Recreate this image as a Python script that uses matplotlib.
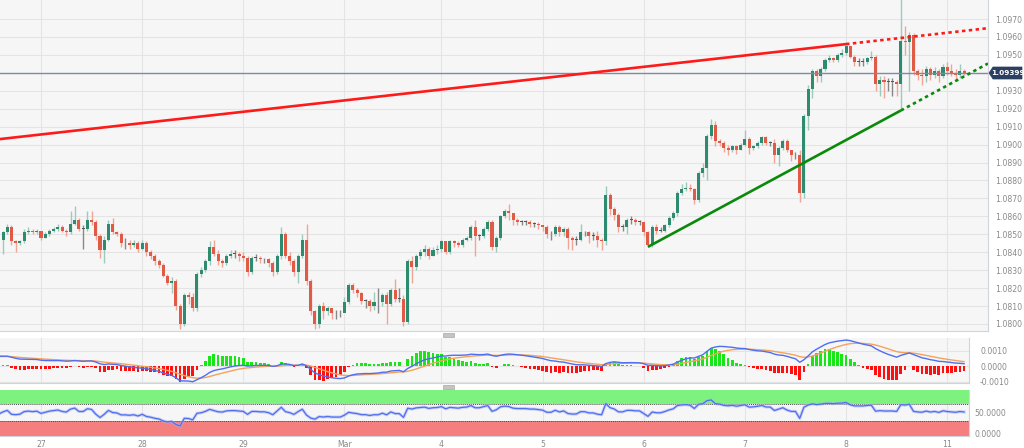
import numpy as np
import matplotlib
matplotlib.use("Agg")
import matplotlib.pyplot as plt
from matplotlib.patches import Rectangle, Polygon

# ---------------- data (hourly EUR/USD candles) ----------------
first_open = 1.0858

close_feb26 = [1.0847, 1.0851, 1.0854, 1.0846, 1.0845, 1.0846, 1.0851, 1.0852, 1.0851, 1.0852]
high_feb26 = [1.0860, 1.0852, 1.0856, 1.0855, 1.0847, 1.0847, 1.0853, 1.0854, 1.0853, 1.0853]
low_feb26 = [1.0845, 1.0839, 1.0850, 1.0844, 1.0840, 1.0844, 1.0845, 1.0850, 1.0850, 1.0850]

close_feb27 = [1.0848, 1.0850, 1.0852, 1.0853, 1.0854, 1.0852, 1.0851, 1.0856, 1.0858, 1.0853, 1.0853, 1.0858,
               1.0857, 1.0849, 1.0841, 1.0847, 1.0856, 1.0851, 1.0850, 1.0845, 1.0845, 1.0844, 1.0845, 1.0842]
high_feb27 = [1.0852, 1.0851, 1.0853, 1.0854, 1.0856, 1.0855, 1.0853, 1.0863, 1.0866, 1.0859, 1.0855, 1.0863,
              1.0863, 1.0858, 1.0850, 1.0849, 1.0858, 1.0859, 1.0852, 1.0851, 1.0848, 1.0847, 1.0847, 1.0846]
low_feb27 = [1.0847, 1.0848, 1.0849, 1.0851, 1.0852, 1.0851, 1.0849, 1.0850, 1.0855, 1.0852, 1.0842, 1.0852,
             1.0855, 1.0847, 1.0837, 1.0834, 1.0846, 1.0850, 1.0849, 1.0843, 1.0842, 1.0842, 1.0843, 1.0840]

close_feb28 = [1.0845, 1.0840, 1.0838, 1.0835, 1.0833, 1.0827, 1.0823, 1.0824, 1.0810, 1.0800, 1.0816, 1.0815,
               1.0809, 1.0828, 1.0830, 1.0835, 1.0843, 1.0839, 1.0835, 1.0834, 1.0838, 1.0839, 1.0839, 1.0838]
high_feb28 = [1.0847, 1.0846, 1.0841, 1.0839, 1.0836, 1.0834, 1.0828, 1.0826, 1.0825, 1.0811, 1.0817, 1.0818,
              1.0817, 1.0829, 1.0832, 1.0836, 1.0846, 1.0847, 1.0841, 1.0836, 1.0839, 1.0841, 1.0841, 1.0840]
low_feb28 = [1.0841, 1.0838, 1.0836, 1.0833, 1.0831, 1.0826, 1.0822, 1.0817, 1.0808, 1.0797, 1.0799, 1.0811,
             1.0807, 1.0807, 1.0826, 1.0829, 1.0833, 1.0838, 1.0833, 1.0832, 1.0833, 1.0837, 1.0837, 1.0835]

close_feb29 = [1.0837, 1.0829, 1.0837, 1.0837, 1.0836, 1.0836, 1.0834, 1.0829, 1.0838, 1.0850, 1.0838, 1.0835,
               1.0829, 1.0838, 1.0847, 1.0824, 1.0807, 1.0800, 1.0810, 1.0807, 1.0809, 1.0806, 1.0806, 1.0806]
high_feb29 = [1.0840, 1.0838, 1.0838, 1.0839, 1.0838, 1.0837, 1.0837, 1.0835, 1.0839, 1.0854, 1.0851, 1.0840,
              1.0836, 1.0839, 1.0850, 1.0856, 1.0825, 1.0808, 1.0811, 1.0812, 1.0810, 1.0808, 1.0808, 1.0808]
low_feb29 = [1.0835, 1.0827, 1.0828, 1.0835, 1.0834, 1.0834, 1.0832, 1.0827, 1.0828, 1.0836, 1.0837, 1.0833,
             1.0827, 1.0823, 1.0837, 1.0822, 1.0805, 1.0797, 1.0798, 1.0803, 1.0805, 1.0803, 1.0803, 1.0804]

close_mar1 = [1.0812, 1.0822, 1.0819, 1.0817, 1.0813, 1.0813, 1.0810, 1.0812, 1.0812, 1.0816, 1.0811, 1.0819,
              1.0814, 1.0814, 1.0801, 1.0835, 1.0832, 1.0838, 1.0840, 1.0842, 1.0838, 1.0841, 1.0842]
high_mar1 = [1.0815, 1.0823, 1.0823, 1.0820, 1.0818, 1.0814, 1.0814, 1.0818, 1.0820, 1.0817, 1.0818, 1.0820,
             1.0825, 1.0820, 1.0816, 1.0836, 1.0838, 1.0839, 1.0842, 1.0844, 1.0843, 1.0843, 1.0844]
low_mar1 = [1.0810, 1.0811, 1.0817, 1.0815, 1.0811, 1.0809, 1.0807, 1.0808, 1.0806, 1.0810, 1.0800, 1.0810,
            1.0812, 1.0812, 1.0799, 1.0800, 1.0823, 1.0830, 1.0836, 1.0838, 1.0836, 1.0838, 1.0839]

close_mar4 = [1.0846, 1.0840, 1.0846, 1.0845, 1.0844, 1.0847, 1.0848, 1.0854, 1.0849, 1.0849, 1.0853, 1.0857,
              1.0843, 1.0848, 1.0860, 1.0863, 1.0862, 1.0858, 1.0857, 1.0857, 1.0857, 1.0856, 1.0856, 1.0855]
high_mar4 = [1.0847, 1.0846, 1.0847, 1.0847, 1.0846, 1.0848, 1.0849, 1.0855, 1.0858, 1.0850, 1.0854, 1.0858,
             1.0858, 1.0849, 1.0861, 1.0864, 1.0867, 1.0862, 1.0859, 1.0858, 1.0858, 1.0858, 1.0857, 1.0857]
low_mar4 = [1.0840, 1.0839, 1.0839, 1.0843, 1.0843, 1.0843, 1.0846, 1.0847, 1.0838, 1.0847, 1.0848, 1.0852,
            1.0841, 1.0840, 1.0847, 1.0859, 1.0858, 1.0855, 1.0855, 1.0855, 1.0855, 1.0854, 1.0854, 1.0853]

close_mar5 = [1.0854, 1.0850, 1.0850, 1.0854, 1.0851, 1.0853, 1.0848, 1.0847, 1.0847, 1.0851, 1.0851, 1.0849,
              1.0849, 1.0847, 1.0846, 1.0872, 1.0864, 1.0861, 1.0854, 1.0854, 1.0858, 1.0858, 1.0857, 1.0857]
high_mar5 = [1.0855, 1.0855, 1.0852, 1.0855, 1.0855, 1.0854, 1.0854, 1.0849, 1.0849, 1.0856, 1.0852, 1.0852,
             1.0851, 1.0852, 1.0848, 1.0877, 1.0873, 1.0865, 1.0862, 1.0856, 1.0859, 1.0860, 1.0859, 1.0858]
low_mar5 = [1.0852, 1.0848, 1.0847, 1.0849, 1.0849, 1.0849, 1.0842, 1.0841, 1.0844, 1.0846, 1.0849, 1.0845,
            1.0847, 1.0843, 1.0841, 1.0844, 1.0861, 1.0858, 1.0851, 1.0852, 1.0850, 1.0856, 1.0855, 1.0855]

close_mar6 = [1.0851, 1.0844, 1.0854, 1.0852, 1.0852, 1.0855, 1.0859, 1.0862, 1.0873, 1.0875, 1.0876, 1.0875,
              1.0869, 1.0884, 1.0887, 1.0905, 1.0911, 1.0902, 1.0901, 1.0898, 1.0897, 1.0899, 1.0897, 1.0900]
high_mar6 = [1.0855, 1.0852, 1.0855, 1.0856, 1.0854, 1.0856, 1.0860, 1.0863, 1.0874, 1.0878, 1.0879, 1.0878,
             1.0876, 1.0885, 1.0890, 1.0906, 1.0914, 1.0913, 1.0903, 1.0902, 1.0900, 1.0900, 1.0900, 1.0901]
low_mar6 = [1.0849, 1.0843, 1.0843, 1.0850, 1.0851, 1.0851, 1.0854, 1.0858, 1.0860, 1.0872, 1.0874, 1.0874,
            1.0867, 1.0868, 1.0882, 1.0880, 1.0903, 1.0899, 1.0899, 1.0896, 1.0894, 1.0896, 1.0895, 1.0897]

close_mar7 = [1.0903, 1.0898, 1.0899, 1.0901, 1.0904, 1.0901, 1.0901, 1.0894, 1.0898, 1.0902, 1.0897, 1.0894,
              1.0894, 1.0873, 1.0916, 1.0931, 1.0941, 1.0938, 1.0942, 1.0947, 1.0948, 1.0947, 1.0950, 1.0951]
high_mar7 = [1.0908, 1.0904, 1.0900, 1.0902, 1.0905, 1.0905, 1.0902, 1.0903, 1.0899, 1.0903, 1.0903, 1.0897,
             1.0896, 1.0897, 1.0917, 1.0933, 1.0942, 1.0942, 1.0943, 1.0948, 1.0950, 1.0949, 1.0951, 1.0953]
low_mar7 = [1.0899, 1.0895, 1.0897, 1.0898, 1.0900, 1.0900, 1.0899, 1.0890, 1.0888, 1.0897, 1.0896, 1.0891,
            1.0892, 1.0868, 1.0870, 1.0908, 1.0926, 1.0935, 1.0935, 1.0941, 1.0946, 1.0946, 1.0946, 1.0949]

close_mar8 = [1.0955, 1.0949, 1.0946, 1.0946, 1.0946, 1.0948, 1.0949, 1.0934, 1.0936, 1.0935, 1.0935, 1.0935,
              1.0934, 1.0958, 1.0957, 1.0961, 1.0941, 1.0939, 1.0938, 1.0942, 1.0939, 1.0941, 1.0938, 1.0943]
high_mar8 = [1.0957, 1.0955, 1.0950, 1.0948, 1.0948, 1.0949, 1.0952, 1.0950, 1.0938, 1.0938, 1.0937, 1.0937,
             1.0936, 1.0985, 1.0966, 1.0963, 1.0962, 1.0942, 1.0942, 1.0944, 1.0943, 1.0943, 1.0942, 1.0945]
low_mar8 = [1.0950, 1.0948, 1.0944, 1.0944, 1.0944, 1.0945, 1.0947, 1.0930, 1.0927, 1.0926, 1.0930, 1.0927,
            1.0927, 1.0919, 1.0950, 1.0930, 1.0939, 1.0936, 1.0933, 1.0935, 1.0936, 1.0937, 1.0935, 1.0937]

close_mar11 = [1.0941, 1.0940, 1.0939, 1.0941, 1.09399]
high_mar11 = [1.0946, 1.0945, 1.0942, 1.0945, 1.0942]
low_mar11 = [1.0939, 1.0938, 1.0936, 1.0937, 1.0939]

day_labels = ["27", "28", "29", "Mar", "4", "5", "6", "7", "8", "11"]

# trend lines (candle index, price)
red_trend_idx = [0, 201]
red_trend_price = [1.0903, 1.0956]
green_trend_idx = [154, 214]
green_trend_price = [1.0843, 1.0919]

# indicator starting state read at the left edge of the lower panels
macd_seed = 0.0007
signal_seed = 0.0006
rsi_seed_gain = 0.00015
rsi_seed_loss = 0.00009

# axis ticks (1.0940 is hidden behind the price tag in the original)
price_ticks = [1.0800, 1.0810, 1.0820, 1.0830, 1.0840, 1.0850, 1.0860, 1.0870, 1.0880,
               1.0890, 1.0900, 1.0910, 1.0920, 1.0930, 1.0950, 1.0960, 1.0970]
price_grid = [1.0800, 1.0810, 1.0820, 1.0830, 1.0840, 1.0850, 1.0860, 1.0870, 1.0880,
              1.0890, 1.0900, 1.0910, 1.0920, 1.0930, 1.0940, 1.0950, 1.0960, 1.0970]
macd_ticks = [-0.0010, 0.0, 0.0010]
rsi_ticks = [0.0, 50.0]

# ---------------- assemble ----------------
day_closes = [close_feb27, close_feb28, close_feb29, close_mar1, close_mar4, close_mar5,
              close_mar6, close_mar7, close_mar8, close_mar11]
closes = np.array(close_feb26 + sum(day_closes, []))
highs = np.array(high_feb26 + high_feb27 + high_feb28 + high_feb29 + high_mar1 + high_mar4 +
                 high_mar5 + high_mar6 + high_mar7 + high_mar8 + high_mar11)
lows = np.array(low_feb26 + low_feb27 + low_feb28 + low_feb29 + low_mar1 + low_mar4 +
                low_mar5 + low_mar6 + low_mar7 + low_mar8 + low_mar11)
opens = np.r_[first_open, closes[:-1]]
n = len(closes)
idx = np.arange(n)
day_starts = np.cumsum([len(close_feb26)] + [len(d) for d in day_closes[:-1]])

# indicators derived from the candles
def ema(vals, period, seed):
    a = 2.0 / (period + 1)
    out = np.empty(len(vals))
    prev = seed
    for k, v in enumerate(vals):
        prev = prev + a * (v - prev)
        out[k] = prev
    return out

ema12 = ema(closes, 12, closes[0])
ema26 = ema(closes, 26, closes[0] - macd_seed)
macd = ema12 - ema26
signal = ema(macd, 9, signal_seed)
hist = macd - signal

diff = closes - opens
ag, al = rsi_seed_gain, rsi_seed_loss
rsi = np.empty(n)
for k, d in enumerate(diff):
    ag = (ag * 13 + max(d, 0)) / 14
    al = (al * 13 + max(-d, 0)) / 14
    rsi[k] = 100 - 100 / (1 + ag / al)

# ---------------- figure ----------------
W, H = 1024, 448
fig = plt.figure(figsize=(W / 100, H / 100), dpi=100, facecolor="white")

def axes_px(x0, y0, x1, y1):
    return fig.add_axes([x0 / W, 1 - y1 / H, (x1 - x0) / W, (y1 - y0) / H])

px_per_candle = 4.215
x_left = 10 - 41 / px_per_candle

ax = axes_px(0, 0, 988, 331)
axm = axes_px(0, 338, 969, 383)
axr = axes_px(0, 390, 969, 436)

panel_bg = "#f6f6f6"
grid_c = "#e4e4e4"
label_c = "#8a8a8a"
spine_c = "#d0d4dc"
tick_fs = 5.6

for a, wpx in ((ax, 988), (axm, 969), (axr, 969)):
    a.set_facecolor(panel_bg)
    a.set_xlim(x_left, x_left + wpx / px_per_candle)
    for s in ("left", "top"):
        a.spines[s].set_visible(False)
    for s in ("right", "bottom"):
        a.spines[s].set_color(spine_c)
        a.spines[s].set_linewidth(0.8)
    for d in day_starts:
        a.axvline(d, color=grid_c, lw=0.8, zorder=0)
    a.yaxis.tick_right()
    a.tick_params(axis="y", length=0, labelsize=tick_fs, labelcolor=label_c, pad=5)
    a.tick_params(axis="x", length=0, labelsize=tick_fs, labelcolor=label_c)
    a.set_xticks([])

# ---- main candles ----
bull_c, bear_c = "#2e8b70", "#e05a46"
bull_w, bear_w = "#9ccabd", "#f1a596"
up = closes >= opens
body_col = np.where(up, bull_c, bear_c)
wick_col = np.where(up, bull_w, bear_w)
body_h = np.abs(closes - opens)
tiny = body_h < 0.00003
body_col = np.where(tiny, "#555555", body_col)
wick_col = np.where(tiny, "#888888", wick_col)
body_h = np.maximum(body_h, 0.000035)

ax.vlines(idx, lows, highs, colors=wick_col, lw=1.0, zorder=2)
ax.bar(idx, body_h, bottom=np.minimum(opens, closes), width=0.72, color=body_col, zorder=3, linewidth=0)

ax.set_ylim(1.0970 - 312 / 17940, 1.0970 + 19 / 17940)
ax.set_yticks(price_ticks)
ax.set_yticklabels([f"{t:.4f}" for t in price_ticks])
for t in price_grid:
    ax.axhline(t, color=grid_c, lw=0.8, zorder=0)

x_right = x_left + 988 / px_per_candle
# red trend line
rs = (red_trend_price[1] - red_trend_price[0]) / (red_trend_idx[1] - red_trend_idx[0])
ax.plot(red_trend_idx, red_trend_price, color="#ff1a1a", lw=1.9, zorder=5, solid_capstyle="butt")
ax.plot([red_trend_idx[1], x_right], [red_trend_price[1], red_trend_price[1] + rs * (x_right - red_trend_idx[1])],
        color="#ff1a1a", lw=1.9, ls=(0, (1.3, 1.3)), zorder=5)
# green trend line
gs = (green_trend_price[1] - green_trend_price[0]) / (green_trend_idx[1] - green_trend_idx[0])
ax.plot(green_trend_idx, green_trend_price, color="#0a8a0a", lw=1.9, zorder=5, solid_capstyle="butt")
ax.plot([green_trend_idx[1], x_right],
        [green_trend_price[1], green_trend_price[1] + gs * (x_right - green_trend_idx[1])],
        color="#0a8a0a", lw=1.9, ls=(0, (1.3, 1.3)), zorder=5)

# current price line and tag
last = closes[-1]
ax.axhline(last, color="#7f8aa6", lw=1.0, zorder=4)
fig.canvas.draw()
_, ypix = ax.transData.transform((x_right, last))
x0 = ax.get_position().x1 * W
tag = Polygon([(x0 + 1, ypix), (x0 + 5, ypix + 6), (W - 2, ypix + 6), (W - 2, ypix - 6), (x0 + 5, ypix - 6)],
              closed=True, transform=None, fc="#2b3f61", ec="#2b3f61", lw=0.5, zorder=10)
fig.patches.append(tag)
fig.text((x0 + 5 + W - 2) / 2 / W, ypix / H, f"{last:.5f}", ha="center", va="center",
         fontsize=5.3, color="white", fontweight="bold", zorder=11)

# ---- MACD ----
pos = hist >= 0
axm.bar(idx, hist * 2.5, width=0.65, color=np.where(pos, "#19e619", "#ff1010"), zorder=2, linewidth=0)
axm.plot(idx, signal, color="#f5a25d", lw=1.0, zorder=3)
axm.plot(idx, macd, color="#4f6ef0", lw=1.0, zorder=4)
axm.set_ylim(-0.00108, 0.0018)
axm.set_yticks(macd_ticks)
axm.set_yticklabels([f"{t:.4f}" for t in macd_ticks])
axm.tick_params(axis="y", pad=8)
for t in macd_ticks:
    axm.axhline(t, color=grid_c, lw=0.8, zorder=0)

# ---- RSI ----
axr.axhspan(70, 102, color="#7ef27e", zorder=1, lw=0)
axr.axhspan(-5, 30, color="#f57f7f", zorder=1, lw=0)
axr.axhline(70, color="#4a4a4a", lw=0.7, ls=(0, (1, 1)), zorder=2)
axr.axhline(30, color="#4a4a4a", lw=0.7, ls=(0, (1, 1)), zorder=2)
axr.plot(idx, rsi, color="#aab6f5", lw=2.2, alpha=0.6, zorder=3)
axr.plot(idx, rsi, color="#4f6ef0", lw=0.9, zorder=4)
axr.set_ylim(-5, 102)
axr.set_yticks(rsi_ticks)
axr.set_yticklabels([f"{t:.4f}" for t in rsi_ticks])
axr.tick_params(axis="y", pad=4)
axr.set_xticks(day_starts)
axr.set_xticklabels(day_labels)
axr.tick_params(axis="x", pad=3)

# panel separator handles
for yc in (334.5, 386.5):
    fig.patches.append(Rectangle(((443) / W, 1 - (yc + 2) / H), 11 / W, 4 / H,
                                 transform=fig.transFigure, fc="#c4c4c4", ec="#a8a8a8", lw=0.5))

fig.savefig("out.png", dpi=100, facecolor="white")
